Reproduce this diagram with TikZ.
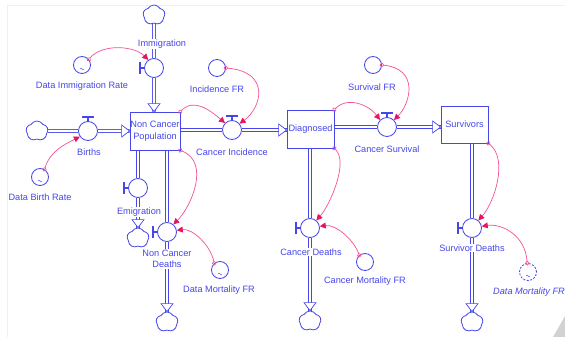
\documentclass[tikz,border=0pt]{standalone}
\usepackage{fontspec}
\setmainfont{Liberation Sans}
\usetikzlibrary{shapes.symbols,arrows.meta,backgrounds}
\definecolor{sdblue}{RGB}{70,70,235}
\definecolor{sdpink}{RGB}{245,80,150}
\definecolor{sdred}{RGB}{230,20,100}
\tikzset{
  lbl/.style={font=\fontsize{9.2}{11.5}\selectfont, text=sdblue, fill=white, inner sep=0.6pt, align=center},
  stock/.style={draw=sdblue, line width=0.8pt, fill=white, inner sep=0pt, font=\fontsize{9.2}{11.5}\selectfont, text=sdblue, align=center},
  valve/.style={circle, draw=sdblue, line width=0.8pt, fill=white, minimum size=19pt, inner sep=0pt},
  aux/.style={circle, draw=sdblue, line width=0.8pt, fill=white, minimum size=17pt, inner sep=0pt},
  cloudn/.style={cloud, cloud puffs=5, cloud puff arc=120, aspect=1, draw=sdblue, line width=0.8pt, fill=white, minimum width=22pt, minimum height=20pt, inner sep=0pt},
  pipe/.style={draw=sdblue, line width=0.7pt, double=white, double distance=2.4pt},
  valvebar/.style={draw=sdblue, line width=1.3pt},
  conn/.style={draw=sdpink, line width=0.7pt, {Circle[open,length=4.5pt,width=4.5pt,sep=-2.25pt]}-{Triangle[length=6pt,width=6pt,color=sdred]}},
  tilde/.style={draw=sdblue, line width=0.4pt},
  headR/.pic={\draw[sdblue, line width=0.7pt, fill=white] (-8,-6) -- (0,0) -- (-8,6) -- cycle;},
  headD/.pic={\draw[sdblue, line width=0.7pt, fill=white] (-6,-8) -- (0,0) -- (6,-8) -- cycle;}
}
\begin{document}
\begin{tikzpicture}[x=1pt,y=-1pt]
\useasboundingbox (0,0) rectangle (565,337);
\draw[gray!12] (7,337) -- (7,5) -- (565,5);
\fill[gray!35] (553,337) -- (565,316) -- (565,337) -- cycle;

% stocks
\node[stock, minimum width=50pt, minimum height=38pt] (ncp) at (155,131) {Non Cancer\\Population};
\node[stock, minimum width=47pt, minimum height=38pt] (diag) at (310.5,129) {Diagnosed};
\node[stock, minimum width=47pt, minimum height=37pt] (surv) at (464.5,124.5) {Survivors};

% clouds
\node[cloudn] (cI) at (154,15) {};
\node[cloudn] (cB) at (37,131) {};
\node[cloudn] (cE) at (138,238) {};
\node[cloudn] (cN) at (167,322) {};
\node[cloudn] (cCD) at (310,321) {};
\node[cloudn] (cSD) at (472,322) {};

% valves
\node[valve] (vI) at (154,68) {};
\node[valve] (vB) at (88,131) {};
\node[valve] (vInc) at (232,130) {};
\node[valve] (vS) at (387,127) {};
\node[valve] (vE) at (138,188) {};
\node[valve] (vN) at (167,232) {};
\node[valve] (vCD) at (310,228) {};
\node[valve] (vSD) at (472,228) {};

% valve bars
\draw[valvebar] (vI.west) -- ++(-4,0) ++(0,-6) -- ++(0,12);
\draw[valvebar] (vE.west) -- ++(-4,0) ++(0,-6) -- ++(0,12);
\draw[valvebar] (vN.west) -- ++(-4,0) ++(0,-6) -- ++(0,12);
\draw[valvebar] (vCD.west) -- ++(-4,0) ++(0,-6) -- ++(0,12);
\draw[valvebar] (vSD.west) -- ++(-4,0) ++(0,-6) -- ++(0,12);
\draw[valvebar] (vB.north) -- ++(0,-4) ++(-6,0) -- ++(12,0);
\draw[valvebar] (vInc.north) -- ++(0,-4) ++(-6,0) -- ++(12,0);
\draw[valvebar] (vS.north) -- ++(0,-4) ++(-6,0) -- ++(12,0);

% auxiliaries
\node[aux] (dir) at (82,65) {};
\node[aux] (dbr) at (40,177) {};
\node[aux] (incfr) at (217,68) {};
\node[aux] (survfr) at (373,65) {};
\node[aux] (dmf) at (220,270) {};
\node[aux] (cmf) at (365,262) {};
\node[aux, dash pattern=on 2pt off 1.5pt] (dmf2) at (528,272) {};
\draw[tilde] ([shift={(-2,4)}]dir.center) sin ++(1,-0.8) cos ++(1,0.8) sin ++(1,0.8) cos ++(1,-0.8);
\draw[tilde] ([shift={(-2,4)}]dbr.center) sin ++(1,-0.8) cos ++(1,0.8) sin ++(1,0.8) cos ++(1,-0.8);
\draw[tilde] ([shift={(-2,4)}]dmf.center) sin ++(1,-0.8) cos ++(1,0.8) sin ++(1,0.8) cos ++(1,-0.8);
\draw[tilde] ([shift={(-2,4)}]dmf2.center) sin ++(1,-0.8) cos ++(1,0.8) sin ++(1,0.8) cos ++(1,-0.8);

% pipes
\begin{scope}[on background layer]
\draw[pipe] (cI) -- (vI) -- (vI |- ncp.north);
\draw[pipe] (cB) -- (vB) -- (ncp.west);
\draw[pipe] (ncp.east |- vInc) -- (vInc) -- (diag.west |- vInc);
\draw[pipe] (diag.east |- vS) -- (vS) -- (surv.west |- vS);
\draw[pipe] (ncp.south -| vE) -- (vE) -- (cE.north);
\draw[pipe] (ncp.south -| vN) -- (vN) -- (cN.north);
\draw[pipe] (diag.south -| vCD) -- (vCD) -- (cCD.north);
\draw[pipe] (surv.south -| vSD) -- (vSD) -- (cSD.north);
\end{scope}
\pic at (vI |- ncp.north) {headD};
\pic at (ncp.west) {headR};
\pic at (diag.west |- vInc) {headR};
\pic at (surv.west |- vS) {headR};
\pic at (cE.north) {headD};
\pic at (cN.north) {headD};
\pic at (cCD.north) {headD};
\pic at (cSD.north) {headD};

% labels
\node[lbl] (lI) at (162,44) {Immigration};
\node[lbl] (lDIR) at (82,86) {Data Immigration Rate};
\node[lbl] (lB) at (89,152) {Births};
\node[lbl] (lDBR) at (40,197) {Data Birth Rate};
\node[lbl] (lIFR) at (217,89) {Incidence FR};
\node[lbl] (lInc) at (232,152) {Cancer Incidence};
\node[lbl] (lSFR) at (372,87) {Survival FR};
\node[lbl] (lS) at (387,149) {Cancer Survival};
\node[lbl] (lE) at (139,212) {Emigration};
\node[lbl] (lN) at (167,259) {Non Cancer\\Deaths};
\node[lbl] (lDMF) at (219,290) {Data Mortality FR};
\node[lbl] (lCD) at (311,252) {Cancer Deaths};
\node[lbl] (lCMF) at (365,281) {Cancer Mortality FR};
\node[lbl] (lSD) at (472,248) {Survivor Deaths};
\node[lbl, font=\fontsize{9.2}{11.5}\selectfont\itshape] (lDMF2) at (529,292) {Data Mortality FR};

% connectors
\draw[conn] (dir.40) .. controls +(14,-16) and +(-14,-14) .. (vI.125);
\draw[conn] (dbr.60) .. controls +(6,-18) and +(-16,8) .. (vB.215);
\draw[conn] (ncp.north east) .. controls +(14,-14) and +(-14,-12) .. (vInc.135);
\draw[conn] (incfr.east) .. controls +(45,4) and +(22,-16) .. (vInc.40);
\draw[conn] (ncp.south east) .. controls +(30,12) and +(18,-18) .. (vN.50);
\draw[conn] (dmf.130) .. controls +(-4,-18) and +(16,-2) .. (vN.10);
\draw[conn] (diag.north east) .. controls +(14,-14) and +(-10,-14) .. (vS.135);
\draw[conn] (survfr.east) .. controls +(38,4) and +(16,-16) .. (vS.45);
\draw[conn] (diag.south east) .. controls +(14,14) and +(14,-16) .. (vCD.50);
\draw[conn] (cmf.130) .. controls +(-6,-16) and +(16,-2) .. (vCD.10);
\draw[conn] (surv.south east) .. controls +(20,16) and +(16,-18) .. (vSD.50);
\draw[conn] (dmf2.95) .. controls +(-2,-28) and +(20,-3) .. (vSD.10);
\end{tikzpicture}
\end{document}
